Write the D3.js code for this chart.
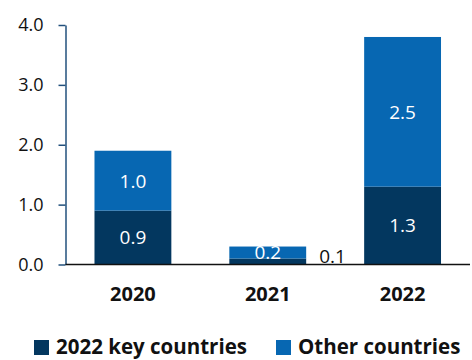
<!DOCTYPE html>
<html>
<head>
<meta charset="utf-8">
<script src="https://cdn.jsdelivr.net/npm/d3@7"></script>
<style>
  html, body { margin: 0; padding: 0; background: #ffffff; }
  svg { display: block; font-family: "Open Sans", "Liberation Sans", sans-serif; }
</style>
</head>
<body>
<svg id="chart" width="472" height="360"></svg>
<script>
// Stacked bars: key countries (bottom) and other countries (top), by year
const years = ["2020", "2021", "2022"];
const keyCountries = [0.9, 0.1, 1.3];
const otherCountries = [1.0, 0.2, 2.5];
const yTicks = [0, 1, 2, 3, 4];
const seriesNames = ["2022 key countries", "Other countries"];
const seriesColors = ["#03375f", "#0767b2"];

const svg = d3.select("#chart");
const fmt = d3.format(".1f");

const x = d3.scaleBand()
  .domain(years)
  .range([65.5, 470])
  .paddingInner(0.43)
  .paddingOuter(0.215);

const y = d3.scaleLinear()
  .domain([0, 4])
  .range([264.5, 25]);

const rows = years.map((yr, i) => ({ year: yr, key: keyCountries[i], other: otherCountries[i] }));
const stacked = d3.stack().keys(["key", "other"])(rows);

// Bars
const groups = svg.append("g").selectAll("g")
  .data(stacked)
  .join("g")
  .attr("fill", (d, i) => seriesColors[i]);

groups.selectAll("rect")
  .data(d => d)
  .join("rect")
  .attr("x", d => x(d.data.year))
  .attr("y", d => y(d[1]))
  .attr("width", x.bandwidth())
  .attr("height", d => y(d[0]) - y(d[1]));

// Y axis
const yAxis = svg.append("g")
  .attr("transform", "translate(65.5,0)")
  .call(d3.axisLeft(y).tickValues(yTicks).tickFormat(fmt).tickSize(7).tickSizeOuter(0).tickPadding(15));
yAxis.select(".domain").attr("stroke", "#22507c").attr("stroke-width", 1.5);
yAxis.selectAll(".tick line").attr("stroke", "#22507c").attr("stroke-width", 1.5);
yAxis.selectAll(".tick text")
  .attr("fill", "#111")
  .style("font-size", "18px")
  .style("font-family", "'Open Sans', sans-serif");

// Baseline
svg.append("line")
  .attr("x1", 65.5).attr("x2", 470)
  .attr("y1", y(0)).attr("y2", y(0))
  .attr("stroke", "#111").attr("stroke-width", 1.5);

// Value labels
stacked.forEach((layer, si) => {
  layer.forEach(d => {
    const v = d[1] - d[0];
    const h = y(d[0]) - y(d[1]);
    const cx = x(d.data.year) + x.bandwidth() / 2;
    if (h < 8) {
      svg.append("text")
        .attr("x", x(d.data.year) + x.bandwidth() + 13)
        .attr("y", y(d[0]) - 1.5)
        .attr("fill", "#111")
        .style("font-size", "19px")
        .text(fmt(v));
    } else {
      svg.append("text")
        .attr("x", cx)
        .attr("y", (y(d[0]) + y(d[1])) / 2)
        .attr("dy", "0.36em")
        .attr("text-anchor", "middle")
        .attr("fill", "#ffffff")
        .style("font-size", "19px")
        .text(fmt(v));
    }
  });
});

// Category labels
svg.append("g").selectAll("text")
  .data(years)
  .join("text")
  .attr("x", d => x(d) + x.bandwidth() / 2)
  .attr("y", 301)
  .attr("text-anchor", "middle")
  .attr("fill", "#111")
  .style("font-size", "20px")
  .style("font-weight", "700")
  .text(d => d);

// Legend
const legendX = [34, 276];
const legend = svg.append("g").selectAll("g")
  .data(seriesNames)
  .join("g")
  .attr("transform", (d, i) => `translate(${legendX[i]},0)`);
legend.append("rect")
  .attr("x", 0).attr("y", 340)
  .attr("width", 15).attr("height", 15)
  .attr("fill", (d, i) => seriesColors[i]);
legend.append("text")
  .attr("x", 22).attr("y", 354)
  .attr("fill", "#111")
  .style("font-size", "20.5px")
  .style("font-weight", "700")
  .text(d => d);
</script>
</body>
</html>
